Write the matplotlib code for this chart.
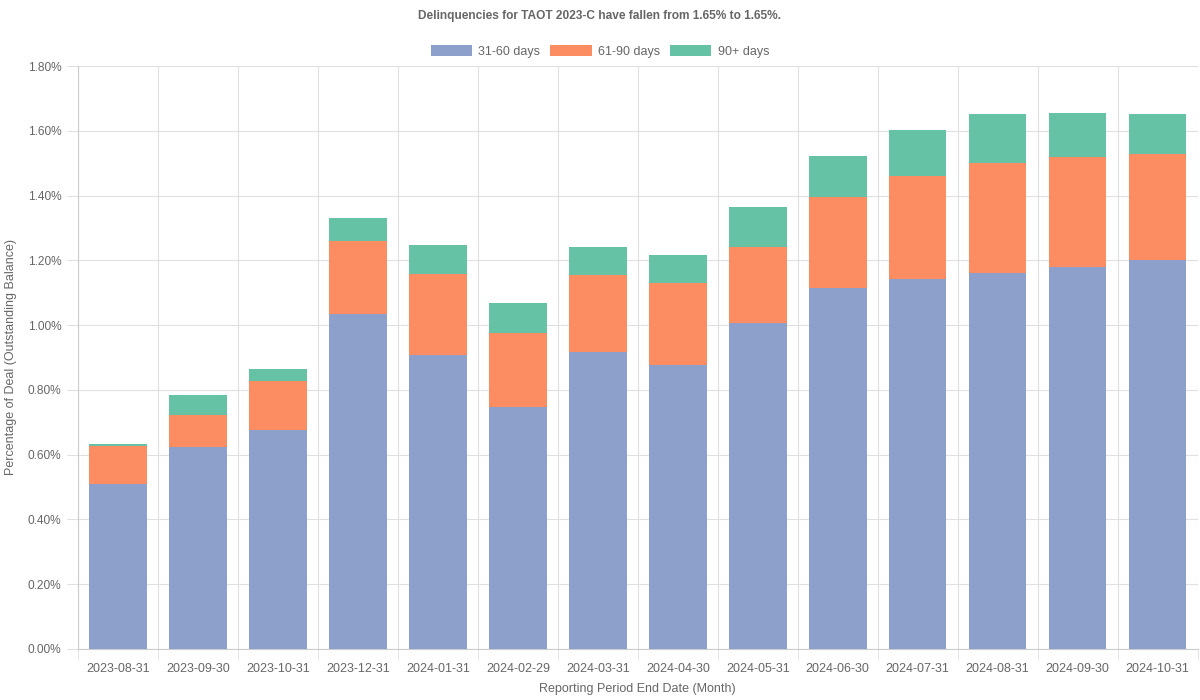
import matplotlib.pyplot as plt
import numpy as np
from matplotlib.ticker import FuncFormatter, MultipleLocator

plt.rcParams['font.family'] = ['Liberation Sans', 'DejaVu Sans']

dates = ["2023-08-31", "2023-09-30", "2023-10-31", "2023-12-31", "2024-01-31",
         "2024-02-29", "2024-03-31", "2024-04-30", "2024-05-31", "2024-06-30",
         "2024-07-31", "2024-08-31", "2024-09-30", "2024-10-31"]
d31_60 = [0.509, 0.623, 0.677, 1.034, 0.908, 0.747, 0.917, 0.877, 1.006, 1.114,
          1.142, 1.161, 1.179, 1.201]
d61_90 = [0.118, 0.099, 0.150, 0.226, 0.250, 0.229, 0.238, 0.253, 0.235, 0.281,
          0.318, 0.339, 0.340, 0.327]
d90p = [0.006, 0.062, 0.037, 0.070, 0.089, 0.092, 0.086, 0.086, 0.124, 0.127,
        0.142, 0.152, 0.136, 0.124]

grey = "#666666"
grid_c = "#e0e0e0"

fig = plt.figure(figsize=(12, 7), dpi=100)
ax = fig.add_axes([0.065, 0.0729, 0.933, 0.8328])

x = np.arange(len(dates))
w = 0.72
b1 = np.array(d31_60)
b2 = b1 + np.array(d61_90)
ax.bar(x, d31_60, w, color="#8da0cb", label="31-60 days", zorder=3)
ax.bar(x, d61_90, w, bottom=b1, color="#fc8d62", label="61-90 days", zorder=3)
ax.bar(x, d90p, w, bottom=b2, color="#66c2a5", label="90+ days", zorder=3)

ax.set_xlim(-0.5, len(dates) - 0.5)
ax.set_ylim(0, 1.8)
ax.yaxis.set_major_locator(MultipleLocator(0.2))
ax.yaxis.set_major_formatter(FuncFormatter(lambda v, p: f"{v:.2f}%"))
ax.set_xticks(x)
ax.set_xticklabels(dates)
ax.set_xticks(np.arange(-0.5, len(dates), 1), minor=True)

ax.grid(axis="y", which="major", color=grid_c, lw=0.8, zorder=0)
ax.grid(axis="x", which="minor", color=grid_c, lw=0.8, zorder=0)
ax.tick_params(axis="x", which="major", length=0, labelsize=9, colors=grey, pad=10)
ax.tick_params(axis="x", which="minor", length=8, color=grid_c)
ax.tick_params(axis="y", length=8, color=grid_c, labelsize=8.6, labelcolor=grey, pad=4)
for s in ["top", "right"]:
    ax.spines[s].set_visible(False)
for s in ["left", "bottom"]:
    ax.spines[s].set_color("#cccccc")

ax.set_xlabel("Reporting Period End Date (Month)", color=grey, fontsize=9, labelpad=6)
ax.set_ylabel("Percentage of Deal (Outstanding Balance)", color=grey, fontsize=9, labelpad=8)

fig.suptitle("Delinquencies for TAOT 2023-C have fallen from 1.65% to 1.65%.",
             y=0.985, fontsize=8.6, fontweight="bold", color=grey)
fig.legend(loc="upper center", bbox_to_anchor=(0.5, 0.952), ncol=3, frameon=False,
           fontsize=9, labelcolor=grey, handlelength=3.3, handleheight=1.0,
           columnspacing=0.8, handletextpad=0.5)

fig.savefig("out.png", dpi=100)
